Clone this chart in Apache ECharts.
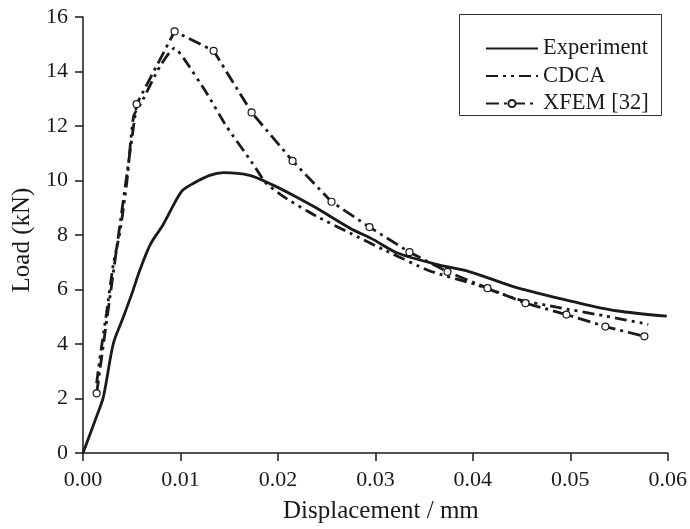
<!DOCTYPE html>
<html>
<head>
<meta charset="utf-8">
<script src="https://cdn.jsdelivr.net/npm/echarts@6/dist/echarts.min.js"></script>
<style>html,body{margin:0;padding:0;background:#fff}#c{width:690px;height:529px}</style>
</head>
<body>
<div id="c"></div>
<script>
var xTicks = [0, 0.01, 0.02, 0.03, 0.04, 0.05, 0.06];
var yTicks = [0, 2, 4, 6, 8, 10, 12, 14, 16];

var expX = [0, 0.0014, 0.0021, 0.0031, 0.0040, 0.0050, 0.0058, 0.0069, 0.0082, 0.0101, 0.0113, 0.0130, 0.0144, 0.0171, 0.0195, 0.0216, 0.0240, 0.0274, 0.0298, 0.0322, 0.0363, 0.0397, 0.0445, 0.0506, 0.0547, 0.0599];
var expY = [0, 1.35, 2.07, 4.0, 4.86, 5.83, 6.68, 7.65, 8.37, 9.59, 9.89, 10.19, 10.29, 10.19, 9.83, 9.45, 8.98, 8.25, 7.83, 7.35, 6.92, 6.65, 6.07, 5.53, 5.22, 5.02];

var cdcaX = [0.0014, 0.0017, 0.0024, 0.0031, 0.0038, 0.0045, 0.0052, 0.0060, 0.0079, 0.0094, 0.0103, 0.0127, 0.0147, 0.0173, 0.0182, 0.0188, 0.0207, 0.0231, 0.0240, 0.0274, 0.0308, 0.0356, 0.0404, 0.0445, 0.0486, 0.0534, 0.0580];
var cdcaY = [2.56, 3.4, 5.1, 6.9, 8.13, 9.95, 12.37, 12.86, 14.19, 14.86, 14.5, 13.2, 12.0, 10.68, 10.19, 9.89, 9.38, 8.86, 8.68, 8.07, 7.47, 6.68, 6.17, 5.65, 5.35, 5.04, 4.72];

var xfemX = [0.0014, 0.0055, 0.0094, 0.0134, 0.0173, 0.0215, 0.0255, 0.0294, 0.0335, 0.0374, 0.0415, 0.0454, 0.0496, 0.0536, 0.0576];
var xfemY = [2.19, 12.8, 15.47, 14.76, 12.5, 10.72, 9.22, 8.29, 7.37, 6.65, 6.05, 5.5, 5.08, 4.64, 4.28];

var seriesNames = ['Experiment', 'CDCA', 'XFEM [32]'];

function pairs(xs, ys) { return xs.map(function (x, i) { return [x, ys[i]]; }); }

var FONT = '"Liberation Serif", "Times New Roman", serif';
var INK = '#1a1a1a';
var chart = echarts.init(document.getElementById('c'), null, {renderer: 'canvas'});
chart.setOption({
  animation: false,
  backgroundColor: '#fff',
  grid: {left: 83, right: 22, top: 17, bottom: 72, containLabel: false},
  xAxis: {
    type: 'value', min: 0, max: 0.06, interval: 0.01,
    name: 'Displacement / mm', nameLocation: 'middle', nameGap: 46,
    nameTextStyle: {fontFamily: FONT, fontSize: 25, color: INK, padding: [0, 0, 0, 11]},
    axisLine: {show: true, lineStyle: {color: INK, width: 1.5}},
    axisTick: {show: true, inside: false, length: 8, lineStyle: {color: INK, width: 1.5}},
    axisLabel: {fontFamily: FONT, fontSize: 22, color: INK, margin: 16,
      formatter: function (v) { return v.toFixed(2); }},
    splitLine: {show: false}
  },
  yAxis: {
    type: 'value', min: 0, max: 16, interval: 2,
    name: 'Load (kN)', nameLocation: 'middle', nameGap: 48, nameRotate: 90,
    nameTextStyle: {fontFamily: FONT, fontSize: 25, color: INK, padding: [0, 10, 0, 0]},
    axisLine: {show: true, lineStyle: {color: INK, width: 1.5}},
    axisTick: {show: true, inside: false, length: 8, lineStyle: {color: INK, width: 1.5}},
    axisLabel: {fontFamily: FONT, fontSize: 22, color: INK, margin: 15},
    splitLine: {show: false}
  },
  legend: {
    orient: 'vertical', left: 485, top: 37,
    itemWidth: 52, itemHeight: 9, itemGap: 4.5, padding: 0,
    textStyle: {fontFamily: FONT, fontSize: 22.5, color: INK},
    data: [
      {name: seriesNames[0], itemStyle: {opacity: 0}},
      {name: seriesNames[1], itemStyle: {opacity: 0}},
      {name: seriesNames[2]}
    ]
  },
  graphic: [{
    type: 'rect', left: 457, top: 12, z: 0,
    shape: {width: 202, height: 101},
    style: {fill: 'none', stroke: '#333', lineWidth: 1}
  }],
  series: [
    {
      name: seriesNames[0], type: 'line', data: pairs(expX, expY), smooth: 0.3,
      symbol: 'none', lineStyle: {color: INK, width: 2.8}, itemStyle: {color: INK}
    },
    {
      name: seriesNames[1], type: 'line', data: pairs(cdcaX, cdcaY), smooth: 0.2,
      symbol: 'none', lineStyle: {color: INK, width: 2.8, type: [12, 5, 3, 5, 3, 5]}, itemStyle: {color: INK}
    },
    {
      name: seriesNames[2], type: 'line', data: pairs(xfemX, xfemY),
      symbol: 'circle', symbolSize: 7, showSymbol: true,
      lineStyle: {color: INK, width: 2.8, type: [13, 5, 3, 5]},
      itemStyle: {color: '#fff', borderColor: INK, borderWidth: 1.2}
    }
  ]
});
</script>
</body>
</html>
